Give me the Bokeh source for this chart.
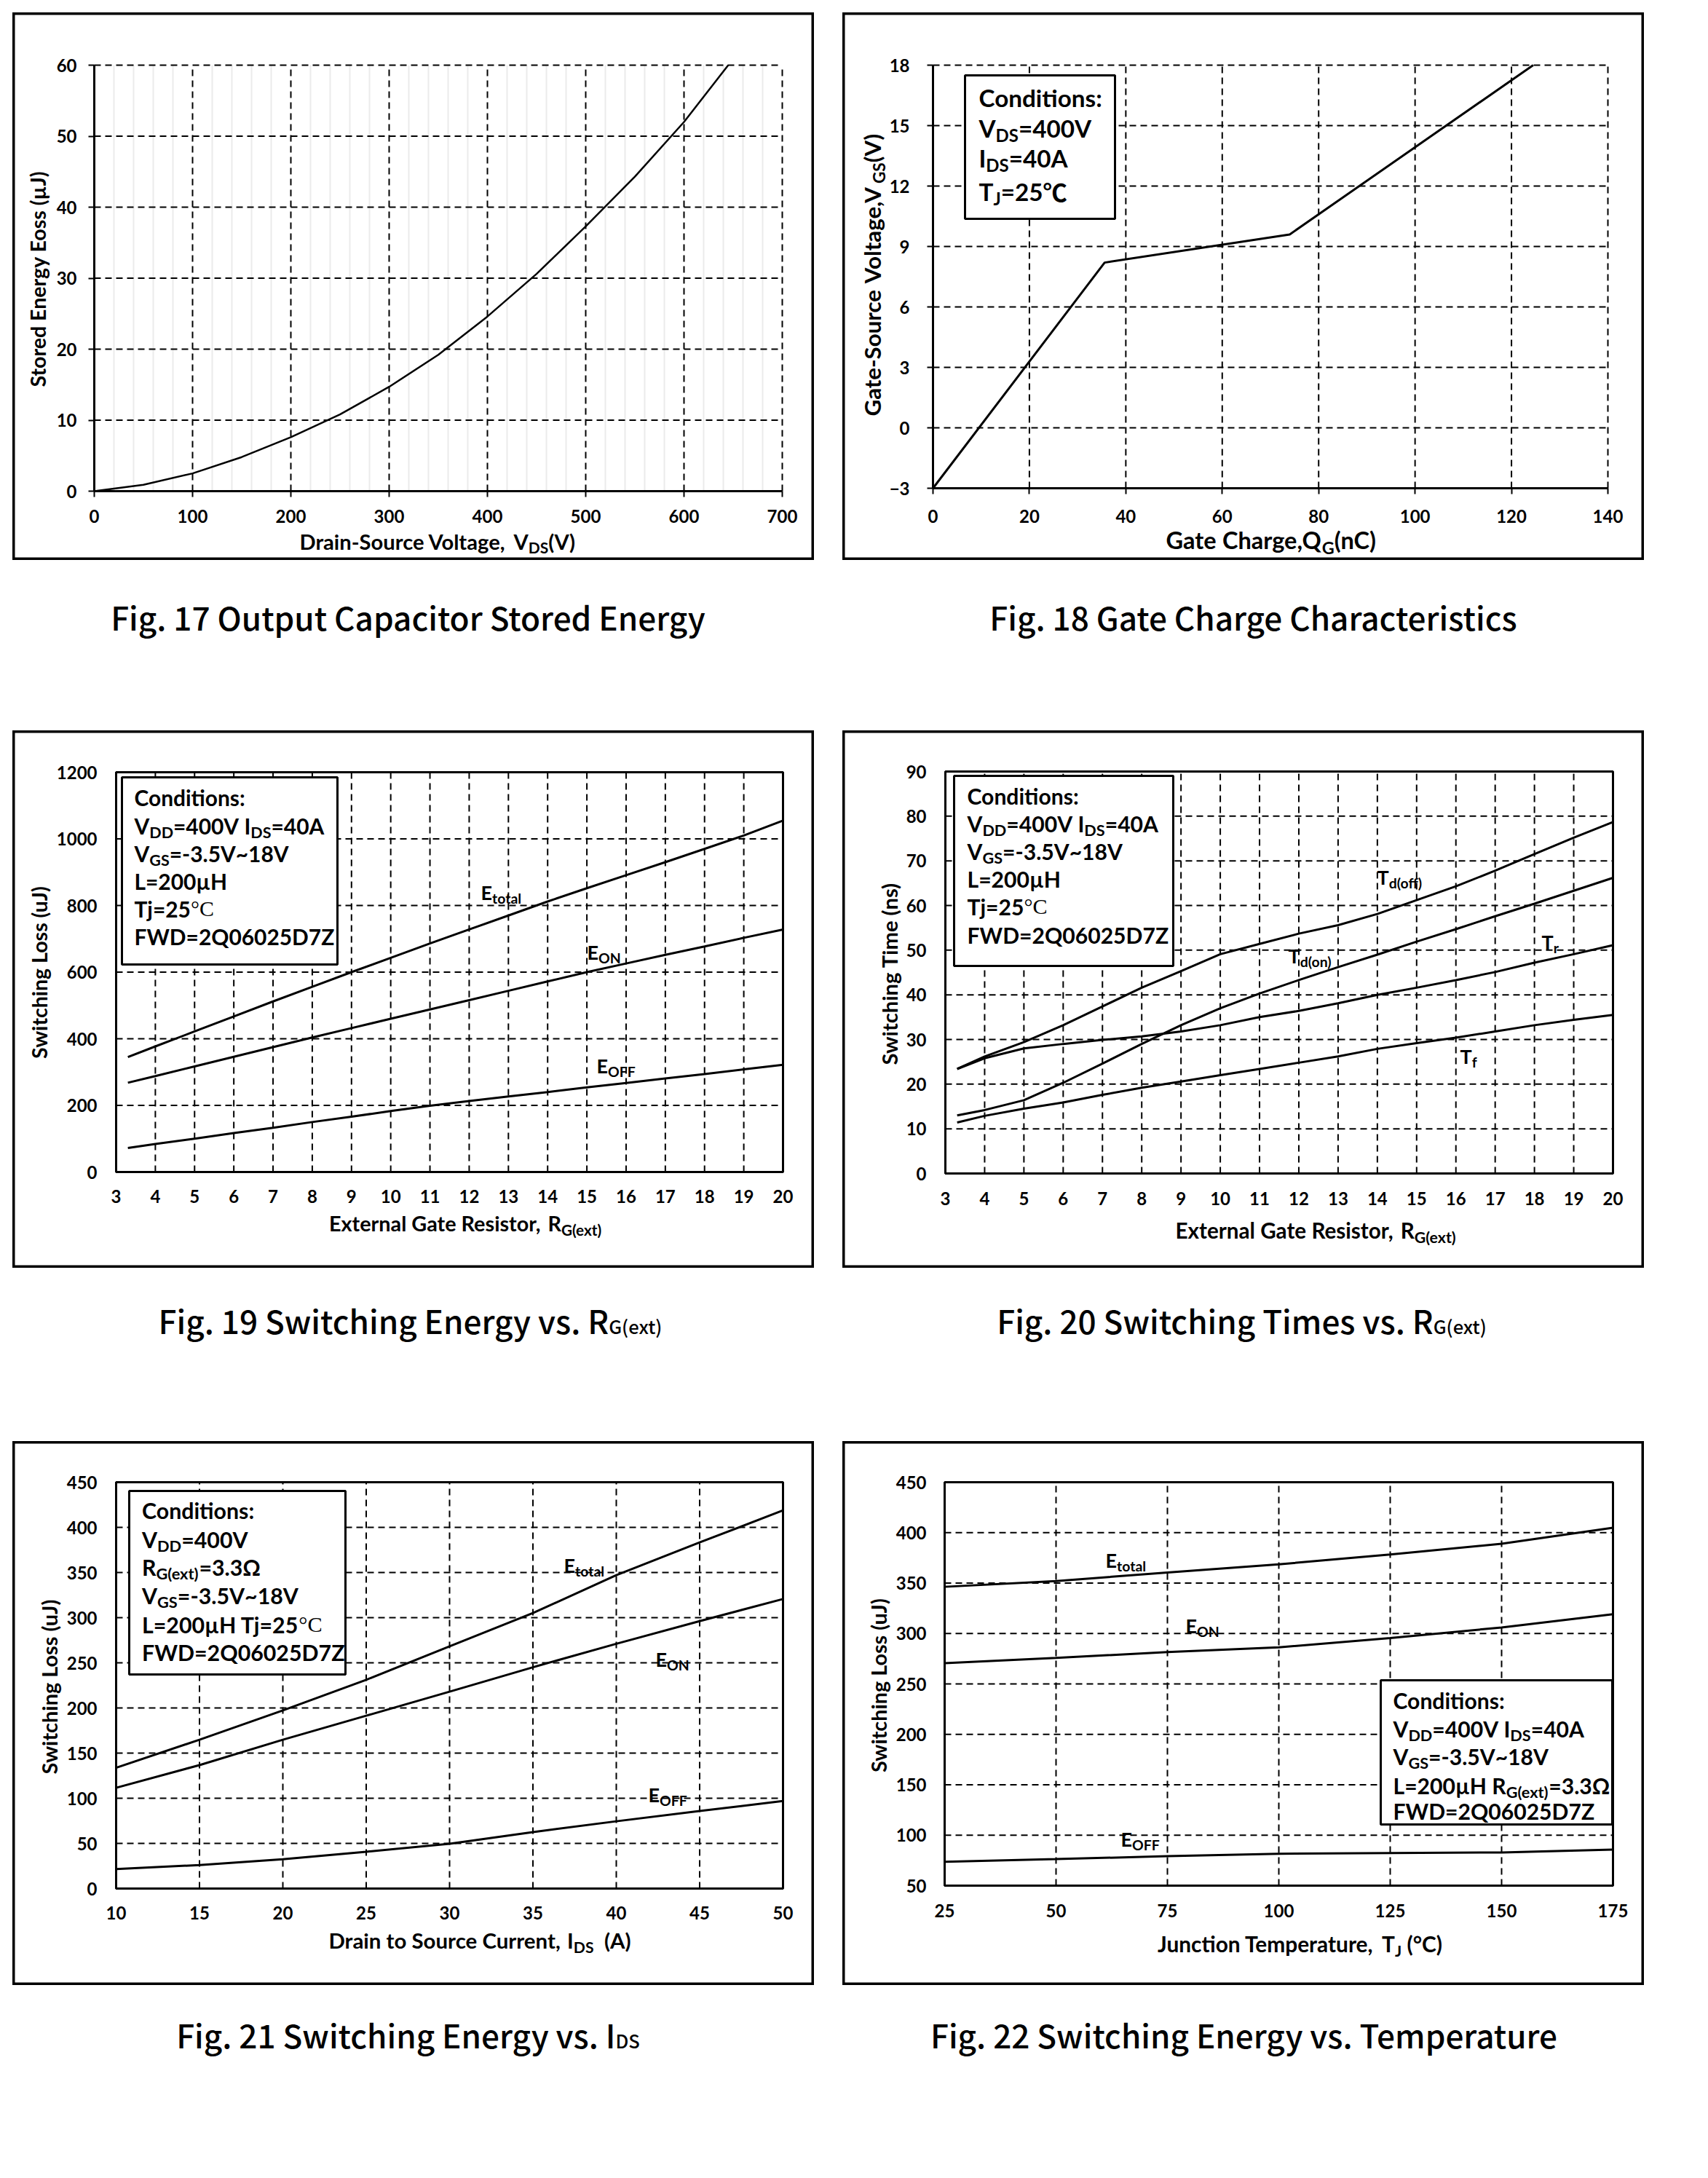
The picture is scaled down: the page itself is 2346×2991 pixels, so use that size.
import os, math, struct
from bokeh.plotting import figure
from bokeh.models import Range1d, FixedTicker, Label, Div, Spacer
from bokeh.layouts import row, column
from bokeh.embed import file_html
from bokeh.resources import INLINE

# ------------------------------------------------------------------ data
# Fig. 17  Output capacitor stored energy
f17_vds = [0, 50, 100, 150, 200, 250, 300, 350, 400, 450, 500, 550, 600, 645]
f17_eoss = [0, 0.9, 2.5, 4.8, 7.6, 10.8, 14.7, 19.2, 24.6, 30.6, 37.3, 44.3, 52.0, 60.0]
f17_xticks = [0, 100, 200, 300, 400, 500, 600, 700]
f17_yticks = [0, 10, 20, 30, 40, 50, 60]
f17_xminor = [20, 40, 60, 80, 120, 140, 160, 180, 220, 240, 260, 280, 320, 340, 360, 380,
              420, 440, 460, 480, 520, 540, 560, 580, 620, 640, 660, 680]

# Fig. 18  Gate charge
f18_qg = [0, 35.6, 74.0, 124.5]
f18_vgs = [-3.0, 8.2, 9.6, 18.0]
f18_xticks = [0, 20, 40, 60, 80, 100, 120, 140]
f18_yticks = [-3, 0, 3, 6, 9, 12, 15, 18]

# Fig. 19  Switching energy vs Rg
f19_rg = [3.3, 4, 5, 6, 7, 8, 9, 10, 11, 12, 13, 14, 15, 16, 17, 18, 19, 20]
f19_etotal = [345, 377, 422, 467, 512, 556, 600, 643, 686, 728, 770, 812, 852, 891, 930, 970, 1010, 1055]
f19_eon = [268, 288, 317, 346, 375, 404, 432, 460, 488, 516, 544, 572, 600, 626, 652, 677, 703, 728]
f19_eoff = [72, 84, 100, 117, 133, 150, 166, 183, 199, 213, 227, 240, 254, 267, 281, 294, 308, 322]
f19_xticks = [3, 4, 5, 6, 7, 8, 9, 10, 11, 12, 13, 14, 15, 16, 17, 18, 19, 20]
f19_yticks = [0, 200, 400, 600, 800, 1000, 1200]

# Fig. 20  Switching times vs Rg
f20_rg = [3.3, 4, 5, 6, 7, 8, 9, 10, 11, 12, 13, 14, 15, 16, 17, 18, 19, 20]
f20_tdoff = [23.4, 26.2, 29.4, 33.2, 37.4, 41.6, 45.3, 49.1, 51.4, 53.7, 55.6, 58.1, 61.2, 64.3, 67.8, 71.5, 75.2, 78.7]
f20_tdon = [13.0, 14.2, 16.4, 20.3, 24.6, 29.0, 33.2, 37.0, 40.3, 43.3, 46.2, 49.0, 51.9, 54.7, 57.6, 60.4, 63.3, 66.2]
f20_tr = [23.4, 25.8, 28.0, 29.0, 29.9, 30.7, 31.8, 33.2, 35.0, 36.4, 38.1, 40.0, 41.6, 43.3, 45.1, 47.2, 49.1, 51.1]
f20_tf = [11.4, 12.9, 14.5, 15.9, 17.6, 19.2, 20.6, 22.0, 23.4, 24.8, 26.2, 27.9, 29.2, 30.4, 31.8, 33.2, 34.4, 35.5]
f20_xticks = [3, 4, 5, 6, 7, 8, 9, 10, 11, 12, 13, 14, 15, 16, 17, 18, 19, 20]
f20_yticks = [0, 10, 20, 30, 40, 50, 60, 70, 80, 90]

# Fig. 21  Switching energy vs Ids
f21_ids = [10, 15, 20, 25, 30, 35, 40, 45, 50]
f21_etotal = [133.8, 164.8, 197.3, 231.2, 268.2, 305.1, 347.0, 383.3, 418.8]
f21_eon = [111.6, 136.7, 164.8, 191.4, 218.0, 245.1, 271.1, 296.2, 320.7]
f21_eoff = [21.6, 26.0, 32.5, 40.8, 49.6, 62.5, 74.5, 85.8, 96.9]
f21_xticks = [10, 15, 20, 25, 30, 35, 40, 45, 50]
f21_yticks = [0, 50, 100, 150, 200, 250, 300, 350, 400, 450]

# Fig. 22  Switching energy vs temperature
f22_tj = [25, 50, 75, 100, 125, 150, 175]
f22_etotal = [346.3, 352.0, 360.5, 368.6, 378.4, 389.0, 404.8]
f22_eon = [270.5, 275.8, 281.6, 286.3, 295.5, 306.0, 319.2]
f22_eoff = [73.7, 76.3, 79.2, 81.6, 82.4, 82.9, 85.8]
f22_xticks = [25, 50, 75, 100, 125, 150, 175]
f22_yticks = [50, 100, 150, 200, 250, 300, 350, 400, 450]

# ------------------------------------------------------------------ font metrics
_files = {}
for d in ["/usr/share/fonts", "/usr/local/share/fonts",
          os.path.expanduser("~/.fonts"), os.path.expanduser("~/.local/share/fonts")]:
    if os.path.isdir(d):
        for dp, dn, fn in os.walk(d):
            for f in fn:
                _files.setdefault(f.lower(), os.path.join(dp, f))


def _find(cands):
    for c in cands:
        if c.lower() in _files:
            return _files[c.lower()]
    return None


class Metrics:
    def __init__(self, path, fallback=0.56):
        self.ok = False
        self.fallback = fallback
        self.cache = {}
        if path:
            try:
                self._load(path)
                self.ok = True
            except Exception:
                self.ok = False

    def _load(self, path):
        data = open(path, "rb").read()
        base = 0
        if data[:4] == b"ttcf":
            base = struct.unpack(">I", data[12:16])[0]
        n = struct.unpack(">H", data[base + 4:base + 6])[0]
        tabs = {}
        for i in range(n):
            r = base + 12 + 16 * i
            tag = data[r:r + 4].decode("latin-1")
            off = struct.unpack(">I", data[r + 8:r + 12])[0]
            tabs[tag] = off
        h = tabs["head"]
        self.upem = struct.unpack(">H", data[h + 18:h + 20])[0]
        hh = tabs["hhea"]
        nhm = struct.unpack(">H", data[hh + 34:hh + 36])[0]
        m = tabs["hmtx"]
        self.adv = struct.unpack(">" + "Hh" * nhm, data[m:m + 4 * nhm])[0::2]
        c = tabs["cmap"]
        nsub = struct.unpack(">H", data[c + 2:c + 4])[0]
        s = None
        for i in range(nsub):
            pid, eid, so = struct.unpack(">HHI", data[c + 4 + 8 * i:c + 12 + 8 * i])
            fmt = struct.unpack(">H", data[c + so:c + so + 2])[0]
            if fmt == 4 and ((pid == 3 and eid in (1, 10)) or pid == 0):
                s = c + so
                break
        segx2 = struct.unpack(">H", data[s + 6:s + 8])[0]
        seg = segx2 // 2
        ends = struct.unpack(">%dH" % seg, data[s + 14:s + 14 + segx2])
        starts = struct.unpack(">%dH" % seg, data[s + 16 + segx2:s + 16 + 2 * segx2])
        deltas = struct.unpack(">%dh" % seg, data[s + 16 + 2 * segx2:s + 16 + 3 * segx2])
        rpos = s + 16 + 3 * segx2
        ros = struct.unpack(">%dH" % seg, data[rpos:rpos + segx2])
        self.data = data
        self.seg = (ends, starts, deltas, ros, rpos)

    def gid(self, ch):
        cp = ord(ch)
        ends, starts, deltas, ros, rpos = self.seg
        for i in range(len(ends)):
            if ends[i] >= cp:
                if starts[i] > cp:
                    return 0
                if ros[i] == 0:
                    return (cp + deltas[i]) & 0xFFFF
                a = rpos + 2 * i + ros[i] + 2 * (cp - starts[i])
                g = struct.unpack(">H", self.data[a:a + 2])[0]
                return (g + deltas[i]) & 0xFFFF if g else 0
        return 0

    def em(self, text):
        if not self.ok:
            return len(text) * self.fallback
        if text in self.cache:
            return self.cache[text]
        tot = 0
        for ch in text:
            g = self.gid(ch)
            w = self.adv[min(g, len(self.adv) - 1)]
            if g == 0:
                w = self.upem * self.fallback
            tot += w
        r = tot / self.upem
        self.cache[text] = r
        return r


MET = {
    "Lato": Metrics(_find(["Lato-Bold.ttf", "Lato-Bol.ttf"]), 0.56),
    "Liberation Serif": Metrics(_find(["LiberationSerif-Regular.ttf"]), 0.5),
    "Noto Sans CJK SC": Metrics(_find(["NotoSansCJK-Bold.ttc", "NotoSansCJKsc-Bold.otf",
                                       "NotoSansCJK-Regular.ttc", "NotoSansCJKsc-Regular.otf"]), 1.0),
}
CAPMET = Metrics(_find(["NotoSansCJK-Regular.ttc", "NotoSansCJKsc-Regular.otf",
                        "NotoSansCJK-Medium.ttc", "NotoSansCJKsc-Medium.otf"]), 0.47)

SUB = 0.72
DROP = 0.2
VCORR = 0.36   # Label anchor correction (fraction of font size)


def split_segs(segs):
    """Split the last word off a normal run that is followed by a subscript,
    so kerning inside long runs does not shift the subscript."""
    out = []
    for i, (t, k) in enumerate(segs):
        nxt = segs[i + 1][1] if i + 1 < len(segs) else None
        if k == "n" and nxt == "s" and " " in t.strip():
            j = t.rstrip().rfind(" ")
            out.append((t[:j + 1], k))
            out.append((t[j + 1:], k))
        else:
            out.append((t, k))
    return out


def seg_parts(segs, size, sub=SUB, drop=DROP):
    parts = []
    for t, k in split_segs(segs):
        if k == "s":
            fs, dy, fam, st = size * sub, size * drop, "Lato", "bold"
        elif k == "serif":
            fs, dy, fam, st = size, 0.0, "Liberation Serif", "normal"
        elif k == "cjk":
            fs, dy, fam, st = size, 0.0, "Noto Sans CJK SC", "bold"
        else:
            fs, dy, fam, st = size, 0.0, "Lato", "bold"
        parts.append((t, fs, dy, fam, st, MET[fam].em(t) * fs))
    return parts


def fit(segs, target, sub=SUB):
    w1 = sum(q[-1] for q in seg_parts(segs, 1.0, sub))
    return target / w1


# ------------------------------------------------------------------ panels
GRID_DASH = "9 6"


class Panel:
    """One boxed chart.  The Bokeh frame is the whole box; the data area is
    the region given by `frame` (page pixels), axes are pinned to its edges."""

    def __init__(self, box, frame, xr, yr, xticks, yticks, outline, tick_out,
                 xstand, ystand, minor=None):
        bx0, by0, bx1, by1 = box
        fx0, fy0, fx1, fy1 = frame
        x0, x1 = xr
        y0, y1 = yr
        ux = (x1 - x0) / (fx1 - fx0)
        uy = (y1 - y0) / (fy1 - fy0)
        X0 = x0 - (fx0 - bx0) * ux
        X1 = x1 + (bx1 - fx1) * ux
        Y0 = y0 - (by1 - fy1) * uy
        Y1 = y1 + (fy0 - by0) * uy
        self.bx0, self.by0 = bx0, by0
        self.W, self.H = bx1 - bx0, by1 - by0
        self.XR, self.YR = (X0, X1), (Y0, Y1)
        p = figure(frame_width=self.W, frame_height=self.H,
                   x_range=Range1d(X0, X1), y_range=Range1d(Y0, Y1),
                   output_backend="svg", toolbar_location=None, min_border=0,
                   background_fill_color="white", border_fill_color="white")
        p.grid.visible = False
        if minor:
            p.segment(x0=minor, y0=[y0] * len(minor), x1=minor, y1=[y1] * len(minor),
                      line_color="#ebebeb", line_width=2)
        p.segment(x0=xticks, y0=[y0] * len(xticks), x1=xticks, y1=[y1] * len(xticks),
                  line_color="black", line_width=2, line_dash=GRID_DASH)
        p.segment(x0=[x0] * len(yticks), y0=yticks, x1=[x1] * len(yticks), y1=yticks,
                  line_color="black", line_width=2, line_dash=GRID_DASH)
        if outline:
            p.quad(left=[x0], right=[x1], bottom=[y0], top=[y1], fill_color=None,
                   line_color="black", line_width=3)
        p.xaxis.ticker = FixedTicker(ticks=xticks)
        p.yaxis.ticker = FixedTicker(ticks=yticks)
        p.xaxis.fixed_location = y0
        p.yaxis.fixed_location = x0
        p.xaxis.bounds = (x0, x1)
        p.yaxis.bounds = (y0, y1)
        for ax in p.axis:
            ax.axis_line_color = "black"
            ax.axis_line_width = 3
            ax.major_tick_line_color = "black" if tick_out else None
            ax.major_tick_line_width = 2
            ax.major_tick_out = tick_out
            ax.major_tick_in = 0
            ax.minor_tick_line_color = None
            ax.minor_tick_out = 0
            ax.minor_tick_in = 0
            ax.major_label_text_font = "Lato"
            ax.major_label_text_font_style = "bold"
            ax.major_label_text_font_size = "24px"
            ax.major_label_text_color = "black"
        p.xaxis.major_label_standoff = xstand
        p.yaxis.major_label_standoff = ystand
        p.outline_line_color = "black"
        p.outline_line_width = 6
        self.p = p

    def to_data(self, px, py):
        X0, X1 = self.XR
        Y0, Y1 = self.YR
        return (X0 + (px - self.bx0) / self.W * (X1 - X0),
                Y1 - (py - self.by0) / self.H * (Y1 - Y0))

    def rich(self, segs, px, py, size, align="left", vertical=False, sub=SUB, drop=DROP):
        parts = seg_parts(segs, size, sub, drop)
        total = sum(q[-1] for q in parts)
        pos = -total / 2 if align == "center" else 0.0
        for t, fs, dy, fam, st, w in parts:
            txt = t.lstrip(" ")
            lead = MET[fam].em(" ") * fs * (len(t) - len(txt))
            corr = VCORR * fs
            if txt.strip():
                if vertical:
                    X, Y, ang = px + dy - corr, py - pos - lead, math.pi / 2
                else:
                    X, Y, ang = px + pos + lead, py + dy - corr, 0.0
                xd, yd = self.to_data(X, Y)
                self.p.add_layout(Label(x=xd, y=yd, text=txt.rstrip(" "), text_font=fam,
                                        text_font_style=st, text_font_size="%.2fpx" % fs,
                                        text_color="black", text_align="left",
                                        text_baseline="alphabetic", angle=ang))
            pos += w

    def cond_box(self, box, left, baselines, lines, width_cond):
        x0, y0, x1, y1 = box
        l, t = self.to_data(x0, y0)
        r, b = self.to_data(x1, y1)
        self.p.quad(left=[l], right=[r], top=[t], bottom=[b], fill_color="white",
                    fill_alpha=1.0, line_color="black", line_width=3)
        size = fit([("Conditions:", "n")], width_cond)
        for segs, by in zip(lines, baselines):
            self.rich(segs, left, by, size)

    def line(self, x, y, w=3):
        self.p.line(x, y, line_color="black", line_width=w)


def N(s):
    return (s, "n")


def S(s):
    return (s, "s")


CURVE = 27  # curve-label font size

# ---- Fig 17
P17 = Panel((17, 17, 1118, 769), (129, 89, 1074, 674), (0, 700), (0, 60),
            f17_xticks, f17_yticks, False, 8, 17, 16, minor=f17_xminor)
P17.line(f17_vds, f17_eoss, 2.5)
lbl = [N("Drain-Source Voltage, V"), S("DS"), N("(V)")]
P17.rich(lbl, 600, 753, fit(lbl, 378), "center")
lbl = [N("Stored Energy Eoss (µJ)")]
P17.rich(lbl, 62, 381.5, fit(lbl, 299), "center", vertical=True)

# ---- Fig 18
P18 = Panel((1157, 17, 2258, 769), (1281, 89, 2208, 670), (0, 140), (-3, 18),
            f18_xticks, f18_yticks, False, 8, 21, 24)
P18.line(f18_qg, f18_vgs, 3)
lbl = [N("Gate Charge,Q"), S("G"), N("(nC)")]
P18.rich(lbl, 1745.5, 753, fit(lbl, 289), "center")
lbl = [N("Gate-Source Voltage,V"), S("GS"), N("(V)")]
P18.rich(lbl, 1209, 377.5, fit(lbl, 387), "center", vertical=True)
P18.cond_box((1325, 103, 1531, 300), 1344, [145, 187, 228, 274],
             [[N("Conditions:")],
              [N("V"), S("DS"), N("=400V")],
              [N("I"), S("DS"), N("=40A")],
              [N("T"), S("J"), N("=25"), ("℃", "cjk")]], 169)

# ---- Fig 19
P19 = Panel((17, 1003, 1118, 1741), (159, 1060, 1075, 1609), (3, 20), (0, 1200),
            f19_xticks, f19_yticks, True, 0, 24, 26)
P19.line(f19_rg, f19_etotal)
P19.line(f19_rg, f19_eon)
P19.line(f19_rg, f19_eoff)
lbl = [N("External Gate Resistor, R"), S("G(ext)")]
P19.rich(lbl, 639, 1690, fit(lbl, 375), "center")
lbl = [N("Switching Loss (uJ)")]
P19.rich(lbl, 63.5, 1334, fit(lbl, 239), "center", vertical=True)
P19.cond_box((167, 1067, 463, 1324), 184, [1105, 1144, 1182, 1220, 1258, 1296],
             [[N("Conditions:")],
              [N("V"), S("DD"), N("=400V I"), S("DS"), N("=40A")],
              [N("V"), S("GS"), N("=-3.5V~18V")],
              [N("L=200µH")],
              [N("Tj=25"), ("°C", "serif")],
              [N("FWD=2Q06025D7Z")]], 152)
P19.rich([N("E"), S("total")], 660, 1235, CURVE)
P19.rich([N("E"), S("ON")], 806, 1317, CURVE)
P19.rich([N("E"), S("OFF")], 819, 1473, CURVE)

# ---- Fig 20
P20 = Panel((1157, 1003, 2258, 1741), (1298, 1059, 2215, 1611), (3, 20), (0, 90),
            f20_xticks, f20_yticks, True, 0, 25, 26)
P20.line(f20_rg, f20_tdoff)
P20.line(f20_rg, f20_tdon)
P20.line(f20_rg, f20_tr)
P20.line(f20_rg, f20_tf)
lbl = [N("External Gate Resistor, R"), S("G(ext)")]
P20.rich(lbl, 1807, 1700, fit(lbl, 386), "center")
lbl = [N("Switching Time (ns)")]
P20.rich(lbl, 1232, 1336, fit(lbl, 252), "center", vertical=True)
P20.cond_box((1310, 1065, 1611, 1326), 1328, [1103, 1141, 1179, 1217, 1255, 1294],
             [[N("Conditions:")],
              [N("V"), S("DD"), N("=400V I"), S("DS"), N("=40A")],
              [N("V"), S("GS"), N("=-3.5V~18V")],
              [N("L=200µH")],
              [N("Tj=25"), ("°C", "serif")],
              [N("FWD=2Q06025D7Z")]], 153)
P20.rich([N("T"), S("d(off)")], 1891, 1214, CURVE)
P20.rich([N("T"), S("d(on)")], 1769, 1322, CURVE)
P20.rich([N("T"), S("r")], 2117, 1303, CURVE)
P20.rich([N("T"), S("f")], 2005, 1460, CURVE)

# ---- Fig 21
P21 = Panel((17, 1979, 1118, 2726), (159, 2035, 1075, 2593), (10, 50), (0, 450),
            f21_xticks, f21_yticks, True, 0, 24, 26)
P21.line(f21_ids, f21_etotal)
P21.line(f21_ids, f21_eon)
P21.line(f21_ids, f21_eoff)
lbl = [N("Drain to Source Current, I"), S("DS"), N("  (A)")]
P21.rich(lbl, 658.5, 2675, fit(lbl, 415), "center")
lbl = [N("Switching Loss (uJ)")]
P21.rich(lbl, 77, 2315, fit(lbl, 242), "center", vertical=True)
P21.cond_box((177, 2047, 474, 2299), 194.5, [2084, 2124, 2162, 2201, 2241, 2279],
             [[N("Conditions:")],
              [N("V"), S("DD"), N("=400V")],
              [N("R"), S("G(ext)"), N("=3.3Ω")],
              [N("V"), S("GS"), N("=-3.5V~18V")],
              [N("L=200µH Tj=25"), ("°C", "serif")],
              [N("FWD=2Q06025D7Z")]], 154)
P21.rich([N("E"), S("total")], 774, 2159, CURVE)
P21.rich([N("E"), S("ON")], 900, 2288, CURVE)
P21.rich([N("E"), S("OFF")], 890, 2474, CURVE)

# ---- Fig 22
P22 = Panel((1157, 1979, 2258, 2726), (1297, 2035, 2215, 2589), (25, 175), (50, 450),
            f22_xticks, f22_yticks, True, 0, 25, 25)
P22.line(f22_tj, f22_etotal)
P22.line(f22_tj, f22_eon)
P22.line(f22_tj, f22_eoff)
lbl = [N("Junction Temperature, T"), S("J"), N(" (°C)")]
P22.rich(lbl, 1785, 2680, fit(lbl, 391), "center")
lbl = [N("Switching Loss (uJ)")]
P22.rich(lbl, 1217, 2313, fit(lbl, 241), "center", vertical=True)
P22.cond_box((1896, 2307, 2214, 2505), 1913, [2345, 2384, 2422, 2462, 2497],
             [[N("Conditions:")],
              [N("V"), S("DD"), N("=400V I"), S("DS"), N("=40A")],
              [N("V"), S("GS"), N("=-3.5V~18V")],
              [N("L=200µH R"), S("G(ext)"), N("=3.3Ω")],
              [N("FWD=2Q06025D7Z")]], 153)
P22.rich([N("E"), S("total")], 1518, 2152, CURVE)
P22.rich([N("E"), S("ON")], 1628, 2242, CURVE)
P22.rich([N("E"), S("OFF")], 1539, 2535, CURVE)

# ------------------------------------------------------------------ captions
cap_texts = ["Fig. 17 Output Capacitor Stored Energy",
             "Fig. 18 Gate Charge Characteristics",
             "Fig. 19 Switching Energy vs. R<span style=\"font-size:0.58em\">G(ext)</span>",
             "Fig. 20 Switching Times vs. R<span style=\"font-size:0.58em\">G(ext)</span>",
             "Fig. 21 Switching Energy vs. I<span style=\"font-size:0.58em\">DS</span>",
             "Fig. 22 Switching Energy vs. Temperature"]
CAP_FS = 799.0 / CAPMET.em("Fig. 17 Output Capacitor Stored Energy")


def cap_div(html, w, h, top, dx):
    t = ('<div style="position:relative;left:%dpx;padding-top:%dpx;width:%dpx;'
         'text-align:center;font-family:\'Noto Sans CJK SC\',sans-serif;font-size:%.1fpx;'
         'font-weight:500;line-height:1;color:#000;white-space:nowrap;">%s</div>'
         % (dx, top, w, CAP_FS, html))
    return Div(text=t, width=w, height=h, margin=(0, 0, 0, 0))


BW = 1101
GAP = 39
LM = 17
TM = 17
r1 = row(Spacer(width=LM, height=752), P17.p, Spacer(width=GAP, height=752), P18.p)
c1 = row(Spacer(width=LM, height=234), cap_div(cap_texts[0], BW, 234, 56, -7),
         Spacer(width=GAP, height=234), cap_div(cap_texts[1], BW, 234, 56, 14))
r2 = row(Spacer(width=LM, height=738), P19.p, Spacer(width=GAP, height=738), P20.p)
c2 = row(Spacer(width=LM, height=238), cap_div(cap_texts[2], BW, 238, 50, -4),
         Spacer(width=GAP, height=238), cap_div(cap_texts[3], BW, 238, 50, -2))
r3 = row(Spacer(width=LM, height=747), P21.p, Spacer(width=GAP, height=747), P22.p)
c3 = row(Spacer(width=LM, height=200), cap_div(cap_texts[4], BW, 200, 46, -7),
         Spacer(width=GAP, height=200), cap_div(cap_texts[5], BW, 200, 46, 1))
lay = column(Spacer(width=10, height=TM), r1, c1, r2, c2, r3, c3)

open("out.html", "w").write(file_html(lay, INLINE))
